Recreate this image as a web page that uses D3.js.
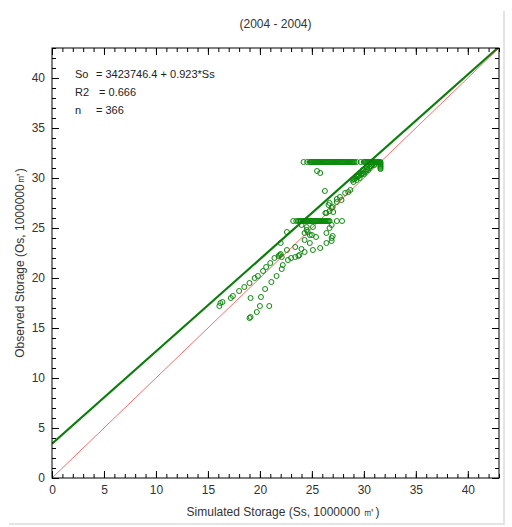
<!DOCTYPE html>
<html>
<head>
<meta charset="utf-8">
<script src="https://cdn.jsdelivr.net/npm/d3@7"></script>
<style>
  body { margin: 0; background: #fff; }
  text { font-family: "Liberation Sans", Arial, sans-serif; }
</style>
</head>
<body>
<div id="chart"></div>
<script>
// observed vs simulated storage scatter (2004), units of 1000000 m3

// regression So = a + b*Ss  (a in 1000000 m3)
var regIntercept = 3.4237464;
var regSlope = 0.923;
var statLines = [
    ["So", "= 3423746.4 + 0.923*Ss"],
    ["R2", " = 0.666"],
    ["n", "= 366"]
];
var majorTicks = [0, 5, 10, 15, 20, 25, 30, 35, 40];

// upper flat band (observed stuck at ~31.6)
var highBandOs = 31.6;
var highBandSs = [24.2, 24.55, 24.8, 24.9, 25.0, 25.1, 25.2, 25.3, 25.4, 25.5, 25.6, 25.7, 25.8, 25.9,
    26.0, 26.1, 26.2, 26.3, 26.4, 26.5, 26.6, 26.7, 26.8, 26.9, 27.0, 27.1, 27.2, 27.3, 27.4, 27.5,
    27.6, 27.7, 27.8, 27.9, 28.0, 28.1, 28.2, 28.3, 28.4, 28.5, 28.6, 28.7, 28.8, 28.9, 29.0, 29.1,
    29.3, 29.7, 30.0, 30.1, 30.2, 30.3, 30.4, 30.5, 30.6, 30.7, 30.8, 30.9, 31.0, 31.1, 31.2, 31.3,
    31.4, 31.5, 31.6];

// middle flat band (observed ~25.7)
var midBandOs = 25.7;
var midBandSs = [23.2, 23.5, 23.7, 23.8, 23.9, 24.0, 24.1, 24.2, 24.3, 24.4, 24.5, 24.6, 24.7, 24.8,
    24.9, 25.0, 25.1, 25.2, 25.3, 25.4, 25.5, 25.6, 25.7, 25.8, 25.9, 26.0, 26.1, 26.2, 26.3, 26.4,
    26.5, 26.6, 26.7, 27.4, 27.9];

// the rest of the days
var scatterSs = [31.6, 31.6, 31.6, 31.6, 31.6, 31.6, 31.6,
    16.1, 16.2, 16.4, 17.2, 17.4, 18.0, 18.5, 19.0, 19.5, 19.8, 20.3, 20.6, 21.0, 21.4, 21.8, 21.9, 22.0, 22.1, 22.0, 22.6, 22.6,
    19.1, 20.1, 20.5, 21.1, 21.6, 20.0, 20.9, 19.7, 19.0, 19.1, 22.1, 22.2, 22.7, 23.0, 23.4, 23.7, 23.8,
    23.4, 24.0, 24.3, 25.1, 25.8, 26.4, 26.9, 24.8, 25.4, 24.3, 24.6, 25.0, 26.4, 26.7, 26.9, 26.9, 27.0,
    24.5, 24.8, 24.3, 24.0, 24.5, 25.1,
    26.3, 26.7, 27.0, 27.4, 26.25, 26.7, 26.6, 27.4, 27.7, 26.9, 27.05, 26.4, 27.85, 25.5, 25.8,
    28.2, 28.5, 28.7, 28.9, 29.0, 29.1, 29.2, 29.3, 29.4, 29.5, 29.6, 29.7, 29.8, 29.9, 30.0, 30.1,
    30.2, 30.3, 30.4, 30.5, 30.6, 30.7, 30.8, 30.9, 31.0, 30.3, 29.9, 29.6, 29.3, 29.0];
var scatterOs = [31.5, 31.4, 31.3, 31.2, 31.1, 31.0, 30.9,
    17.2, 17.5, 17.6, 18.0, 18.2, 18.7, 19.1, 19.5, 20.0, 20.2, 20.7, 21.1, 21.5, 22.0, 22.2, 22.3, 22.4, 22.1, 23.5, 24.6, 22.8,
    18.0, 18.1, 18.9, 19.6, 20.2, 17.2, 17.2, 16.6, 16.0, 16.1, 20.9, 21.3, 21.8, 22.0, 22.1, 22.2, 22.3,
    23.1, 22.9, 22.6, 22.8, 23.0, 23.5, 23.7, 23.5, 24.1, 24.5, 24.6, 24.3, 24.5, 25.0, 25.3, 24.0, 24.2,
    24.8, 24.3, 23.8, 25.3, 25.1, 25.1,
    26.5, 26.7, 27.1, 27.6, 28.7, 27.5, 27.3, 27.9, 28.1, 27.0, 26.6, 26.5, 27.8, 30.7, 30.5,
    28.5, 28.6, 28.8, 29.8, 29.6, 29.9, 30.0, 29.8, 30.1, 30.2, 30.0, 30.3, 30.4, 30.5, 30.4, 30.6,
    30.7, 30.9, 30.8, 31.0, 31.1, 31.2, 31.3, 31.4, 31.3, 31.1, 30.8, 30.5, 30.2, 29.9];

(function () {
    var width = 512,
        height = 527;
    var margin = { top: 48, right: 13, bottom: 49, left: 52 };
    var plotW = width - margin.left - margin.right,
        plotH = height - margin.top - margin.bottom;

    var svg = d3.select('#chart')
                .append('svg')
                .attr('width', width)
                .attr('height', height);

    // outer panel with a soft shadow
    svg.append('rect')
        .attr('x', 9).attr('y', 11)
        .attr('width', 496).attr('height', 514)
        .attr('fill', '#e4e4e4');
    svg.append('rect')
        .attr('x', 8).attr('y', 10)
        .attr('width', 495).attr('height', 513)
        .attr('fill', '#fff');

    var g = svg.append('g')
                .attr('transform', 'translate(' + margin.left + ',' + margin.top + ')');

    var xScale = d3.scaleLinear().domain([0, 43]).range([0, plotW]);
    var yScale = d3.scaleLinear().domain([0, 43]).range([plotH, 0]);

    // build point table from the arrays
    var points = [];
    highBandSs.forEach(function (s) { points.push({ ss: s, os: highBandOs }); });
    midBandSs.forEach(function (s) { points.push({ ss: s, os: midBandOs }); });
    scatterSs.forEach(function (s, i) { points.push({ ss: s, os: scatterOs[i] }); });

    g.append('clipPath').attr('id', 'clip')
        .append('rect').attr('width', plotW).attr('height', plotH);

    // 1:1 line
    g.append('line')
        .attr('clip-path', 'url(#clip)')
        .attr('x1', xScale(0)).attr('y1', yScale(0))
        .attr('x2', xScale(43)).attr('y2', yScale(43))
        .attr('stroke', '#ff6a6a')
        .attr('stroke-width', 1);

    // points
    g.selectAll('circle')
        .data(points)
        .enter()
        .append('circle')
        .attr('cx', function (d) { return xScale(d.ss); })
        .attr('cy', function (d) { return yScale(d.os); })
        .attr('r', 2.5)
        .attr('fill', 'none')
        .attr('stroke', '#0a8a0a')
        .attr('stroke-width', 1);

    // regression line
    g.append('line')
        .attr('clip-path', 'url(#clip)')
        .attr('x1', xScale(0)).attr('y1', yScale(regIntercept))
        .attr('x2', xScale(43)).attr('y2', yScale(regIntercept + regSlope * 43))
        .attr('stroke', '#0b7d0b')
        .attr('stroke-width', 2.2);

    // axes: major and minor ticks pointing inward on all four sides
    var minorTicks = d3.range(0, 44);
    function addAxis(axisFn, transform, values, size, labels) {
        var ax = axisFn.tickValues(values).tickSizeInner(-size).tickSizeOuter(0).tickPadding(7);
        if (!labels) ax.tickFormat('');
        var a = g.append('g').attr('transform', transform).call(ax);
        a.select('.domain').remove();
        a.selectAll('line').attr('stroke', '#000');
        a.selectAll('text').style('font-size', '12px').attr('fill', '#333');
        return a;
    }
    addAxis(d3.axisBottom(xScale), 'translate(0,' + plotH + ')', minorTicks, 4, false);
    addAxis(d3.axisBottom(xScale), 'translate(0,' + plotH + ')', majorTicks, 7, true);
    addAxis(d3.axisTop(xScale), 'translate(0,0)', minorTicks, 4, false);
    addAxis(d3.axisTop(xScale), 'translate(0,0)', majorTicks, 7, false);
    addAxis(d3.axisLeft(yScale), 'translate(0,0)', minorTicks, 4, false);
    addAxis(d3.axisLeft(yScale), 'translate(0,0)', majorTicks, 7, true);
    addAxis(d3.axisRight(yScale), 'translate(' + plotW + ',0)', minorTicks, 4, false);
    addAxis(d3.axisRight(yScale), 'translate(' + plotW + ',0)', majorTicks, 7, false);

    g.append('rect')
        .attr('width', plotW).attr('height', plotH)
        .attr('fill', 'none')
        .attr('stroke', '#000');

    // title and axis labels
    svg.append('text')
        .attr('x', margin.left + plotW / 2).attr('y', 28)
        .attr('text-anchor', 'middle')
        .style('font-size', '12px').attr('fill', '#333')
        .text('(2004 - 2004)');

    svg.append('text')
        .attr('x', 283).attr('y', 516)
        .attr('text-anchor', 'middle')
        .style('font-size', '12px').attr('fill', '#333')
        .text('Simulated Storage (Ss, 1000000 \u33A5)');

    svg.append('text')
        .attr('transform', 'translate(24,' + (margin.top + plotH / 2) + ') rotate(-90)')
        .attr('text-anchor', 'middle')
        .style('font-size', '12px').attr('fill', '#333')
        .text('Observed Storage (Os, 1000000\u33A5)');

    // regression stats
    var stats = g.append('g').attr('transform', 'translate(23,0)');
    statLines.forEach(function (row, i) {
        stats.append('text').attr('x', 0).attr('y', 30 + i * 18)
            .style('font-size', '11px').attr('fill', '#222').text(row[0]);
        stats.append('text').attr('x', 21).attr('y', 30 + i * 18)
            .style('font-size', '11px').attr('fill', '#222').style('white-space', 'pre').text(row[1]);
    });
})();
</script>
</body>
</html>
